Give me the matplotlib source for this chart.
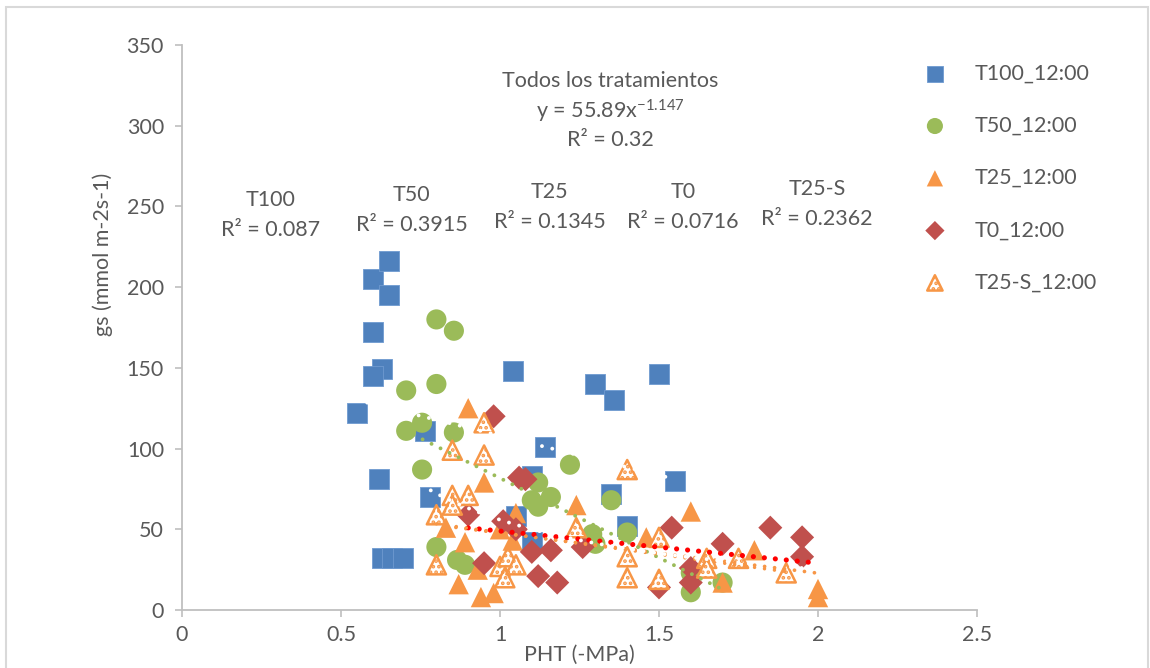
import numpy as np
import matplotlib
matplotlib.use("Agg")
import matplotlib.pyplot as plt
from matplotlib.patches import Rectangle

plt.rcParams['font.family'] = ['Lato', 'DejaVu Sans']
plt.rcParams['mathtext.fontset'] = 'custom'
plt.rcParams['mathtext.rm'] = 'Lato'
plt.rcParams['mathtext.it'] = 'Lato:italic'
plt.rcParams['hatch.linewidth'] = 1.8

# ---------------- data ----------------
series_names = ["T100_12:00", "T50_12:00", "T25_12:00", "T0_12:00", "T25-S_12:00"]

t100_x = [0.55, 0.60, 0.65, 0.65, 0.60, 0.63, 0.60, 0.62, 0.63, 0.66, 0.695, 0.765, 0.78,
          1.04, 1.14, 1.10, 1.05, 1.10, 1.30, 1.36, 1.50, 1.35, 1.40, 1.55]
t100_y = [122, 205, 216, 195, 172, 149, 145, 81, 32, 32, 32, 111, 70,
          148, 101, 83, 58, 42, 140, 130, 146, 72, 52, 80]

t50_x = [0.80, 0.855, 0.705, 0.80, 0.705, 0.755, 0.855, 0.755, 0.80, 0.865, 0.89,
         1.22, 1.12, 1.10, 1.16, 1.12, 1.35, 1.29, 1.30, 1.40, 1.60, 1.70, 1.60]
t50_y = [180, 173, 136, 140, 111, 116, 110, 87, 39, 31, 28,
         90, 79, 68, 70, 64, 68, 47, 41, 48, 11, 17, 23]

t25_x = [0.90, 0.95, 0.83, 0.89, 0.87, 0.94, 0.98, 0.93, 1.05, 1.24, 1.04, 1.00,
         1.60, 1.46, 1.80, 1.70, 2.00, 2.00]
t25_y = [125, 79, 51, 42, 16, 8, 10.5, 25, 60, 65, 43, 50,
         61, 45, 37, 17, 13, 8]

t0_x = [0.98, 0.90, 0.95, 1.06, 1.08, 1.01, 1.05, 1.10, 1.16, 1.12, 1.18, 1.26,
        1.54, 1.60, 1.60, 1.50, 1.70, 1.85, 1.95, 1.95]
t0_y = [120, 59, 29, 82, 81, 55, 50, 36, 37, 21, 17, 39,
        51, 26, 17, 14, 41, 51, 45, 33]

t25s_x = [0.95, 0.85, 0.95, 0.85, 0.90, 0.80, 0.85, 0.80, 1.00, 1.015, 1.025, 1.05,
          1.40, 1.24, 1.40, 1.40, 1.50, 1.50, 1.65, 1.65, 1.75, 1.90]
t25s_y = [116, 99, 96, 71, 71, 59, 65, 28, 27, 20, 33, 28,
          87, 51, 33, 20, 45, 19, 32, 26, 32, 23]

# linear trend lines: intercept, slope, x range
trend_names = ["T100", "T50", "T25", "T0", "T25-S"]
trend_intercept = [157.0, 180.3, 72.6, 68.8, 75.0]
trend_slope = [-49.0, -98.6, -24.9, -19.9, -27.0]
trend_xmin = [0.55, 0.70, 0.83, 0.90, 0.80]
trend_xmax = [1.55, 1.70, 2.00, 2.00, 1.90]
trend_r2 = ["0.087", "0.3915", "0.1345", "0.0716", "0.2362"]

# overall power trend
all_a = 55.89
all_b = -1.147
all_xrange = [0.55, 2.0]

# ---------------- figure ----------------
W, H = 1150, 668
FS = 15.5
fig = plt.figure(figsize=(W / 100, H / 100), dpi=100)
fig.patch.set_facecolor('white')
ax = fig.add_axes([182 / W, 1 - 610 / H, 795 / W, 565 / H])

blue = '#4F81BD'
green = '#9BBB59'
orange = '#F79646'
red = '#C0504D'
gray_txt = '#595959'

ax.scatter(t100_x, t100_y, marker='s', s=200, color=blue, edgecolors='#6F9AD0',
           linewidths=0.6, zorder=3, label=series_names[0])
ax.scatter(t50_x, t50_y, marker='o', s=210, color=green, edgecolors='none',
           zorder=4, label=series_names[1])
ax.scatter(t25_x, t25_y, marker='^', s=215, color=orange, edgecolors='none',
           zorder=5, label=series_names[2])
ax.scatter(t0_x, t0_y, marker='D', s=150, color=red, edgecolors='none',
           zorder=6, label=series_names[3])
ax.scatter(t25s_x, t25s_y, marker='^', s=190, facecolor='white', edgecolors=orange,
           linewidths=1.8, hatch='...', zorder=7, label=series_names[4])

trend_colors = ['white', green, orange, 'red', orange]
trend_lw = [2.8, 2.8, 2.7, 3.7, 2.5]
spacing_pt = [7.6, 7.2, 7.2, 7.9, 7.2]
for i in range(len(trend_names)):
    xx = np.linspace(trend_xmin[i], trend_xmax[i], 200)
    yy = trend_intercept[i] + trend_slope[i] * xx
    lw = trend_lw[i]
    ax.plot(xx, yy, color=trend_colors[i], lw=lw,
            linestyle=(0, (0.01, spacing_pt[i] / lw)), dash_capstyle='round', zorder=9)

xx = np.linspace(all_xrange[0], all_xrange[1], 300)
ax.plot(xx, all_a * xx ** all_b, color='white', lw=2.8,
        linestyle=(0, (0.01, 7.6 / 2.8)), dash_capstyle='round', zorder=9)

# axes
ax.set_xlim(0, 2.5)
ax.set_ylim(0, 350)
ax.set_xticks([0, 0.5, 1, 1.5, 2, 2.5])
ax.set_xticklabels(["0", "0.5", "1", "1.5", "2", "2.5"])
ax.set_yticks(np.arange(0, 351, 50))
for sp in ['top', 'right']:
    ax.spines[sp].set_visible(False)
for sp in ['left', 'bottom']:
    ax.spines[sp].set_color('#BFBFBF')
    ax.spines[sp].set_linewidth(1.3)
ax.tick_params(axis='both', colors='#BFBFBF', labelcolor=gray_txt, labelsize=FS,
               length=5, width=1.2, direction='out')
ax.tick_params(axis='x', pad=6)
ax.tick_params(axis='y', pad=8)

ax.set_ylabel("gs (mmol m-2s-1)", fontsize=FS, color=gray_txt)
ax.yaxis.set_label_coords(-0.087, 0.63)
ax.set_xlabel("PHT (-MPa)", fontsize=FS, color=gray_txt)
ax.xaxis.set_label_coords(0.5, -0.062)

# annotations
ax.text(1.346, 328, "Todos los tratamientos", ha='center', va='center', fontsize=FS, color=gray_txt)
ax.text(1.346, 309, r"y = 55.89x$^{\mathrm{-1.147}}$", ha='center', va='center', fontsize=FS, color=gray_txt)
ax.text(1.346, 291, "R² = 0.32", ha='center', va='center', fontsize=FS, color=gray_txt)

lab_x = [0.277, 0.723, 1.157, 1.575, 1.997]
lab_y = [254, 257, 259, 259, 261]
for i in range(len(trend_names)):
    ax.text(lab_x[i], lab_y[i], trend_names[i], ha='center', va='center', fontsize=FS, color=gray_txt)
    ax.text(lab_x[i], lab_y[i] - 18.5, "R² = " + trend_r2[i], ha='center', va='center',
            fontsize=FS, color=gray_txt)

# legend
leg = fig.legend(handles=ax.collections[:5], labels=series_names, loc='upper left',
                 bbox_to_anchor=(894 / W, 1 - 44 / H), frameon=False, fontsize=FS,
                 labelspacing=1.5, handletextpad=0.85, markerscale=0.8, labelcolor=gray_txt)

# clipped title at very top and outer frame
fig.text(0.515, 1.016, "(Todos los tratamientos)", ha='center', va='center', fontsize=FS, color=gray_txt)
fig.patches.append(Rectangle((6 / W, -0.02), 1 - 8 / W, 1 - 7 / H + 0.02, transform=fig.transFigure,
                             fill=False, edgecolor='#D9D9D9', lw=1.5))

fig.savefig("out.png", dpi=100)
